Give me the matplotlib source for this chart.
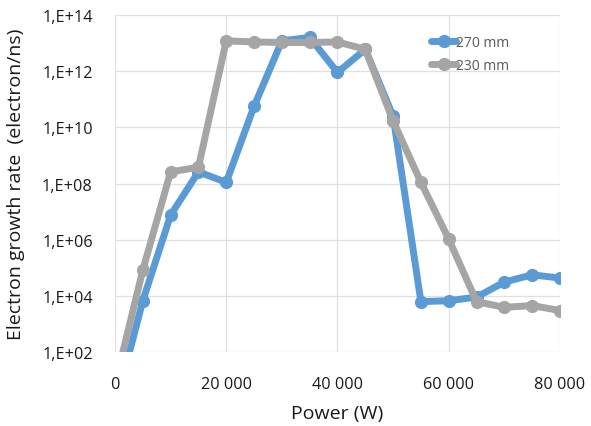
from matplotlib import pyplot as plt
import numpy as np

plt.rcParams['font.family'] = ['Open Sans', 'DejaVu Sans']

# power (W)
power = [0, 5000, 10000, 15000, 20000, 25000, 30000, 35000, 40000,
         45000, 50000, 55000, 60000, 65000, 70000, 75000, 80000]
# electron growth rate, 270 mm
rate_270 = [1.0, 6.7e3, 7.5e6, 2.6e8, 1.1e8, 5.6e10, 1.2e13, 1.6e13, 9e11,
            6e12, 2.5e10, 6.2e3, 6.7e3, 9e3, 3.1e4, 5.6e4, 4.3e4]
# electron growth rate, 230 mm
rate_230 = [7.0, 8.3e4, 2.6e8, 3.8e8, 1.2e13, 1.1e13, 1.05e13, 1.05e13, 1.1e13,
            6e12, 1.7e10, 1.1e8, 1.05e6, 6.2e3, 3.9e3, 4.5e3, 3e3]

yticks = [1e2, 1e4, 1e6, 1e8, 1e10, 1e12, 1e14]
ylabels = ["1,E+02", "1,E+04", "1,E+06", "1,E+08", "1,E+10", "1,E+12", "1,E+14"]
xticks = [0, 20000, 40000, 60000, 80000]
xlabels = ["0", "20 000", "40 000", "60 000", "80 000"]

fig = plt.figure(figsize=(5.91, 4.27), dpi=100)
ax = fig.add_axes([0.1946, 0.1733, 0.7529, 0.7892])

ax.plot(power, rate_270, color='#5B9BD5', lw=5, marker='o', ms=8.5,
        solid_capstyle='round', solid_joinstyle='round', label='270 mm', zorder=3)
ax.plot(power, rate_230, color='#A5A5A5', lw=5, marker='o', ms=8.5,
        solid_capstyle='round', solid_joinstyle='round', label='230 mm', zorder=3)

ax.set_yscale('log')
ax.set_ylim(1e2, 1e14)
ax.set_xlim(0, 80000)
ax.set_yticks(yticks)
ax.set_yticklabels(ylabels)
ax.minorticks_off()
ax.set_xticks(xticks)
ax.set_xticklabels(xlabels)
ax.tick_params(length=0, labelsize=11.7, labelcolor='#1a1a1a')
ax.tick_params(axis='y', pad=16)
ax.tick_params(axis='x', pad=17)
ax.grid(True, color='#E0E0E0', lw=0.9)
for s in ax.spines.values():
    s.set_visible(False)

ax.set_xlabel('Power (W)', fontsize=14, color='#1a1a1a', labelpad=9)
ax.set_ylabel('Electron growth rate  (electron/ns)', fontsize=14, color='#1a1a1a', labelpad=12)

leg = ax.legend(loc='upper left', bbox_to_anchor=(0.683, 0.978), frameon=False,
                fontsize=10, handlelength=1.8, handletextpad=0.0, labelspacing=0.55,
                labelcolor='#595959')

fig.savefig('out.png', dpi=100)
